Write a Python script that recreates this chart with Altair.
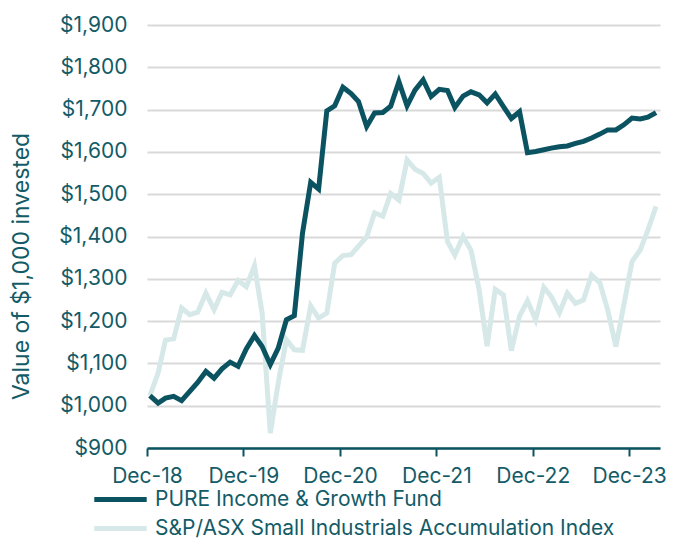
import altair as alt
import pandas as pd

series_names = ["PURE Income & Growth Fund", "S&P/ASX Small Industrials Accumulation Index"]

# month-end dates Dec-18 .. Mar-24
months = pd.date_range("2018-12-31", periods=64, freq="ME").strftime("%Y-%m-%d").tolist()

fund = [1024, 1006, 1018, 1022, 1012, 1034, 1055, 1081, 1065, 1087, 1103, 1093,
        1134, 1166, 1140, 1097, 1136, 1203, 1213, 1408, 1528, 1512, 1697, 1709,
        1753, 1738, 1719, 1660, 1692, 1693, 1708, 1766, 1709, 1746, 1770, 1731,
        1748, 1745, 1705, 1732, 1742, 1735, 1716, 1737, 1707, 1679, 1695, 1598,
        1601, 1605, 1609, 1612, 1614, 1620, 1625, 1633, 1642, 1652, 1652, 1664,
        1680, 1678, 1682, 1693]

index = [1024, 1077, 1155, 1158, 1231, 1215, 1221, 1266, 1227, 1268, 1262, 1296,
         1281, 1331, 1219, 935, 1054, 1156, 1132, 1131, 1236, 1207, 1219, 1337,
         1355, 1357, 1377, 1399, 1456, 1448, 1502, 1486, 1581, 1559, 1549, 1526,
         1540, 1388, 1356, 1400, 1368, 1274, 1141, 1275, 1262, 1130, 1212, 1248,
         1203, 1280, 1258, 1220, 1266, 1242, 1250, 1309, 1291, 1226, 1140, 1238,
         1341, 1368, 1415, 1471]

y_ticks = list(range(900, 2000, 100))
x_tick_years = [2018, 2019, 2020, 2021, 2022, 2023]

TEXT = "#135b67"
DARK = "#0b5361"
LIGHT = "#d6e8e8"
FONT = "Inter"

df = pd.DataFrame({
    "date": months * 2,
    "value": fund + index,
    "series": [series_names[0]] * len(fund) + [series_names[1]] * len(index),
})

x_enc = alt.X(
    "date:T",
    scale=alt.Scale(domain=[alt.DateTime(year=2018, month=12, date=20),
                            alt.DateTime(year=2024, month=4, date=15)]),
    axis=alt.Axis(
        values=[alt.DateTime(year=y, month=12, date=20) for y in x_tick_years],
        format="%b-%y", title=None, grid=False,
        domainColor=DARK, domainWidth=2.5,
        tickColor=DARK, tickWidth=2, tickSize=8,
        labelFontSize=21, labelColor=TEXT, labelFont=FONT, labelPadding=9,
        labelFlush=False, labelOverlap=False,
    ),
)
y_enc = alt.Y(
    "value:Q",
    scale=alt.Scale(domain=[900, 1900], nice=False, zero=False),
    axis=alt.Axis(
        values=y_ticks, format="$,.0f",
        title="Value of $1,000 invested", titleFontSize=23, titleFontWeight="normal",
        titleColor=TEXT, titleFont=FONT, titlePadding=25, titleY=241,
        grid=True, gridColor="#d9d9d9", gridWidth=2,
        domain=False, ticks=False,
        labelFontSize=21, labelColor=TEXT, labelFont=FONT, labelPadding=20,
        labelOverlap=False,
    ),
)
color_enc = alt.Color(
    "series:N",
    scale=alt.Scale(domain=series_names, range=[DARK, LIGHT]),
    legend=alt.Legend(
        title=None, orient="none", legendX=-37, legendY=464, direction="vertical",
        symbolType="M-5,0H5", symbolSize=110, symbolStrokeWidth=5,
        labelFontSize=21, labelColor=TEXT, labelFont=FONT, labelOffset=24,
        labelLimit=0, rowPadding=7, padding=0,
    ),
)

base = alt.Chart(df).mark_line(strokeWidth=5, strokeJoin="miter").encode(
    x=x_enc, y=y_enc, color=color_enc
)

chart = alt.layer(
    base.transform_filter(alt.datum.series == series_names[1]),
    base.transform_filter(alt.datum.series == series_names[0]),
).properties(
    width=513, height=423,
    autosize=alt.AutoSizeParams(type="none"),
    padding={"left": 139, "top": 17, "right": 6, "bottom": 92},
).configure_view(stroke=None)

chart.save("out.html", embed_options={"renderer": "svg", "actions": False})
